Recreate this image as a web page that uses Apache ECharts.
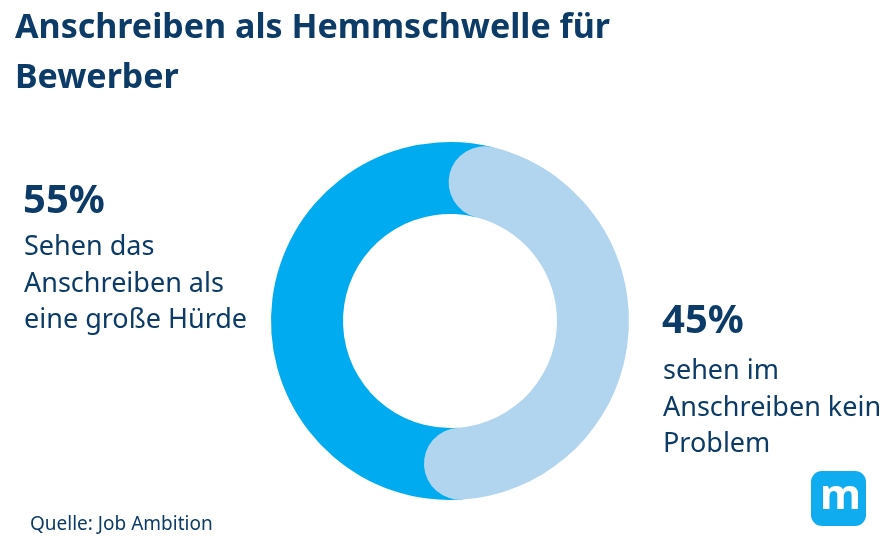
<!DOCTYPE html>
<html>
<head>
<meta charset="utf-8">
<script src="https://cdn.jsdelivr.net/npm/echarts@6/dist/echarts.min.js"></script>
<style>html,body{margin:0;padding:0;background:#fff}#c{width:889px;height:552px}</style>
</head>
<body>
<div id="c"></div>
<script>
const titleLines = ['Anschreiben als Hemmschwelle für', 'Bewerber'];
const categories = ['Sehen das Anschreiben als eine große Hürde', 'sehen im Anschreiben kein Problem'];
const values = [55, 45];
const descLeft = ['Sehen das', 'Anschreiben als', 'eine große Hürde'];
const descRight = ['sehen im', 'Anschreiben kein', 'Problem'];
const source = 'Quelle: Job Ambition';

const NAVY = '#0b3b66';
const DARK = '#00acef';
const LIGHT = '#b1d5ee';
const FONT = '"Noto Sans", sans-serif';

const chart = echarts.init(document.getElementById('c'), null, {renderer: 'canvas'});

function txt(x, y, text, size, weight) {
  return {type: 'text', left: x, top: y, style: {text: text, fill: NAVY, font: weight + ' ' + size + 'px ' + FONT}};
}

const graphics = [];
titleLines.forEach((t, i) => graphics.push(txt(15, 11 + i * 50, t, 34, 'bold')));
graphics.push(txt(23, 182, values[0] + '%', 40, 'bold'));
descLeft.forEach((t, i) => graphics.push(txt(24, 234 + i * 36.5, t, 27, 'normal')));
graphics.push(txt(662, 302, values[1] + '%', 40, 'bold'));
descRight.forEach((t, i) => graphics.push(txt(663, 358 + i * 36.5, t, 27, 'normal')));
graphics.push(txt(30, 515, source, 19, 'normal'));
graphics.push({type: 'rect', left: 811, top: 471, shape: {width: 55, height: 55, r: 11}, style: {fill: '#0fadf0'}});
graphics.push({type: 'text', left: 820, top: 476, style: {text: 'm', fill: '#fff', font: 'bold 42px ' + FONT}});

chart.setOption({
  animation: false,
  backgroundColor: '#fff',
  polar: {center: [450, 321], radius: [107, 179]},
  angleAxis: {type: 'value', min: 0, max: 100, startAngle: 76, clockwise: true, show: false},
  radiusAxis: {type: 'category', data: ['a'], show: false},
  series: [
    {type: 'bar', name: categories[1], coordinateSystem: 'polar', stack: 'total', data: [values[1]], roundCap: true,
     barCategoryGap: '0%', itemStyle: {color: LIGHT}, z: 3},
    {type: 'bar', name: categories[0], coordinateSystem: 'polar', stack: 'total', data: [values[0]],
     barCategoryGap: '0%', itemStyle: {color: DARK}, z: 2}
  ],
  graphic: graphics
});
</script>
</body>
</html>
